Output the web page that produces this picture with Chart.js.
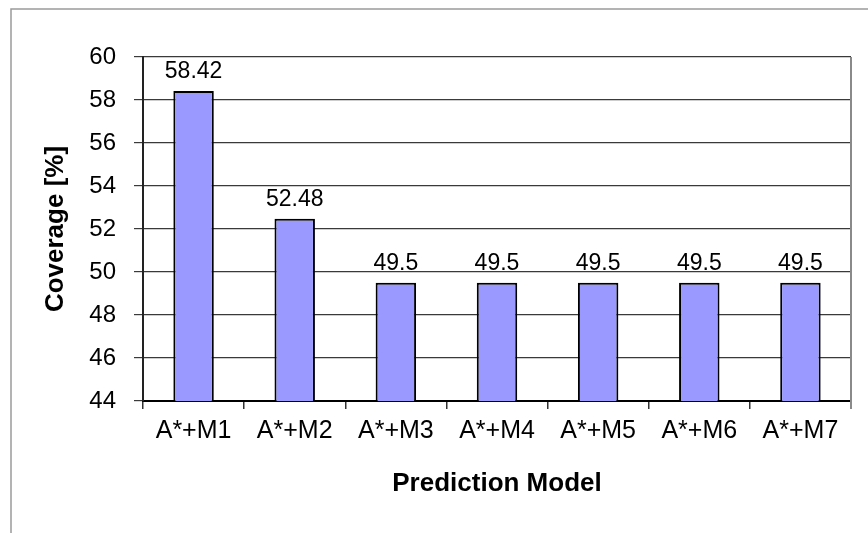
<!DOCTYPE html>
<html>
<head>
<meta charset="utf-8">
<style>
  body { margin: 0; background: #fff; }
  #wrap { width: 868px; height: 533px; }
</style>
<script src="https://cdn.jsdelivr.net/npm/chart.js@4/dist/chart.umd.min.js"></script>
</head>
<body>
<div id="wrap"><canvas id="coverageChart" width="868" height="533"></canvas></div>
<script>
  const categories = ['A*+M1', 'A*+M2', 'A*+M3', 'A*+M4', 'A*+M5', 'A*+M6', 'A*+M7'];
  const coverage = [58.42, 52.48, 49.5, 49.5, 49.5, 49.5, 49.5];
  const yTicks = [44, 46, 48, 50, 52, 54, 56, 58, 60];

  const fontFamily = '"Liberation Sans", Arial, sans-serif';

  // outer frame lines and the grey right edge of the plot
  const framePlugin = {
    id: 'frame',
    beforeDraw(chart) {
      const ctx = chart.ctx;
      ctx.save();
      ctx.strokeStyle = '#9a9a9a';
      ctx.lineWidth = 1.5;
      ctx.beginPath();
      ctx.moveTo(11, 533);
      ctx.lineTo(11, 9);
      ctx.lineTo(868, 9);
      ctx.stroke();
      ctx.restore();
    },
    afterDraw(chart) {
      const { ctx, chartArea } = chart;
      ctx.save();
      ctx.strokeStyle = '#8a8a8a';
      ctx.lineWidth = 2;
      ctx.beginPath();
      ctx.moveTo(chartArea.right, chartArea.top);
      ctx.lineTo(chartArea.right, chartArea.bottom + 8);
      ctx.stroke();
      ctx.restore();
    }
  };

  // value labels above each bar
  const valueLabels = {
    id: 'valueLabels',
    afterDatasetsDraw(chart) {
      const ctx = chart.ctx;
      const meta = chart.getDatasetMeta(0);
      ctx.save();
      ctx.font = '23px ' + fontFamily;
      ctx.fillStyle = '#000';
      ctx.textAlign = 'center';
      ctx.textBaseline = 'alphabetic';
      meta.data.forEach((bar, i) => {
        ctx.fillText(String(coverage[i]), bar.x, bar.y - 13);
      });
      ctx.restore();
    }
  };

  const ctx = document.getElementById('coverageChart').getContext('2d');
  new Chart(ctx, {
    type: 'bar',
    data: {
      labels: categories,
      datasets: [{
        data: coverage,
        backgroundColor: '#9999ff',
        borderColor: '#000000',
        borderWidth: 2,
        borderSkipped: false,
        barPercentage: 0.4,
        categoryPercentage: 1.0
      }]
    },
    options: {
      responsive: false,
      animation: false,
      layout: { padding: { left: 0, top: 57, right: 17, bottom: 0 } },
      plugins: {
        legend: { display: false },
        tooltip: { enabled: false }
      },
      scales: {
        x: {
          grid: {
            offset: true,
            drawOnChartArea: false,
            drawTicks: true,
            tickLength: 8,
            color: '#333',
            lineWidth: 1.5
          },
          border: { color: '#000', width: 2 },
          ticks: {
            color: '#000',
            padding: 7,
            maxRotation: 0,
            font: { family: fontFamily, size: 25 }
          },
          title: {
            display: true,
            text: 'Prediction Model',
            color: '#000',
            padding: { top: 0, bottom: 34 },
            font: { family: fontFamily, size: 26, weight: 'bold' }
          },
          afterFit(scale) { scale.height = 132; }
        },
        y: {
          min: 44,
          max: 60,
          afterBuildTicks(scale) {
            scale.ticks = yTicks.map(v => ({ value: v }));
          },
          grid: {
            color: '#3a3a3a',
            lineWidth: 1.2,
            drawTicks: true,
            tickLength: 9
          },
          border: { color: '#222', width: 2 },
          ticks: {
            color: '#000',
            padding: 18,
            font: { family: fontFamily, size: 24 }
          },
          title: {
            display: true,
            text: 'Coverage [%]',
            color: '#000',
            padding: { top: 40, bottom: 0 },
            font: { family: fontFamily, size: 26, weight: 'bold' }
          },
          afterFit(scale) { scale.width = 143; }
        }
      }
    },
    plugins: [framePlugin, valueLabels]
  });
</script>
</body>
</html>
